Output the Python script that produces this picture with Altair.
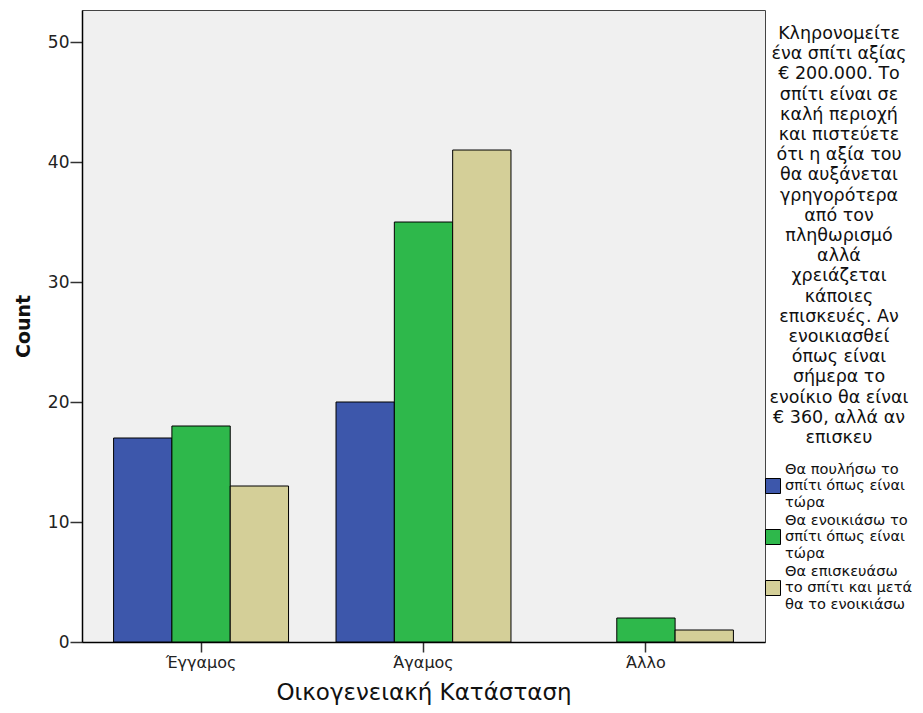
import altair as alt
import pandas as pd

categories = ["Έγγαμος", "Άγαμος", "Άλλο"]
series = [
    "Θα πουλήσω το σπίτι όπως είναι τώρα",
    "Θα ενοικιάσω το σπίτι όπως είναι τώρα",
    "Θα επισκευάσω το σπίτι και μετά θα το ενοικιάσω",
]
series_lines = [
    ["Θα πουλήσω το", "σπίτι όπως είναι", "τώρα"],
    ["Θα ενοικιάσω το", "σπίτι όπως είναι", "τώρα"],
    ["Θα επισκευάσω", "το σπίτι και μετά", "θα το ενοικιάσω"],
]
counts = {
    series[0]: [17, 20, 0],
    series[1]: [18, 35, 2],
    series[2]: [13, 41, 1],
}
colors = ["#3D57AB", "#2EB84B", "#D4CF98"]
legend_title = [
    "Κληρονομείτε", "ένα σπίτι αξίας", "€ 200.000. Το", "σπίτι είναι σε",
    "καλή περιοχή", "και πιστεύετε", "ότι η αξία του", "θα αυξάνεται",
    "γρηγορότερα", "από τον", "πληθωρισμό", "αλλά", "χρειάζεται",
    "κάποιες", "επισκευές. Αν", "ενοικιασθεί", "όπως είναι", "σήμερα το",
    "ενοίκιο θα είναι", "€ 360, αλλά αν", "επισκευ",
]

rows = []
for s in series:
    for c, v in zip(categories, counts[s]):
        rows.append({"cat": c, "series": s, "count": v})
df = pd.DataFrame(rows)

label_expr = ""
for s, lines in zip(series, series_lines):
    arr = "[" + ",".join("'" + l + "'" for l in lines) + "]"
    label_expr += f"datum.label == '{s}' ? {arr} : "
label_expr += "datum.label"

FONT = "DejaVu Sans"
# square symbol drawn one text line lower, next to the middle label line
SYMBOL = "M-1,1.2H1V3.2H-1Z"

chart = alt.Chart(df).transform_filter("datum.count > 0").mark_bar(
    stroke="black", strokeWidth=1
).encode(
    x=alt.X("cat:N", sort=categories,
            scale=alt.Scale(paddingInner=0.2135, paddingOuter=0.142),
            axis=alt.Axis(title="Οικογενειακή Κατάσταση", labelAngle=0,
                          labelFontSize=16, labelColor="#222", labelPadding=2,
                          tickSize=10, tickColor="#333", tickWidth=1.5,
                          domainColor="#000", domainWidth=1.5,
                          titleFontSize=23, titleFontWeight="normal",
                          titlePadding=11, titleColor="#111")),
    xOffset=alt.XOffset("series:N", sort=series,
                        scale=alt.Scale(domain=series)),
    y=alt.Y("count:Q", scale=alt.Scale(domain=[0, 52.67], nice=False),
            axis=alt.Axis(title="Count", values=[0, 10, 20, 30, 40, 50],
                          grid=False, labelFontSize=17, labelColor="#222",
                          labelPadding=1, tickSize=12, tickColor="#333",
                          tickWidth=1.5, domainColor="#000", domainWidth=1.5,
                          titleFontSize=19, titleFontWeight="bold",
                          titlePadding=14, titleColor="#111")),
    color=alt.Color("series:N", sort=series,
                    scale=alt.Scale(domain=series, range=colors),
                    legend=alt.Legend(
                        title=legend_title, orient="none",
                        legendX=683, legendY=15,
                        titleAlign="center", titleAnchor="middle",
                        titleFontSize=17.5, titleFontWeight="normal",
                        titleLineHeight=20.2, titleLimit=400,
                        titlePadding=15, titleColor="#111",
                        labelExpr=label_expr, labelFontSize=14.6,
                        labelLimit=400, labelColor="#111", labelOffset=4,
                        symbolType=SYMBOL, symbolSize=225,
                        symbolStrokeColor="black", symbolStrokeWidth=1,
                        symbolOpacity=1, rowPadding=3)),
).properties(
    width=683, height=632,
    autosize=alt.AutoSizeParams(type="none"),
    padding={"left": 74, "top": 2, "right": 150, "bottom": 63},
).configure(font=FONT).configure_view(
    fill="#F0F0F0", stroke="#444", strokeWidth=1
)

chart.save("out.html", embed_options={"renderer": "svg", "actions": False})
